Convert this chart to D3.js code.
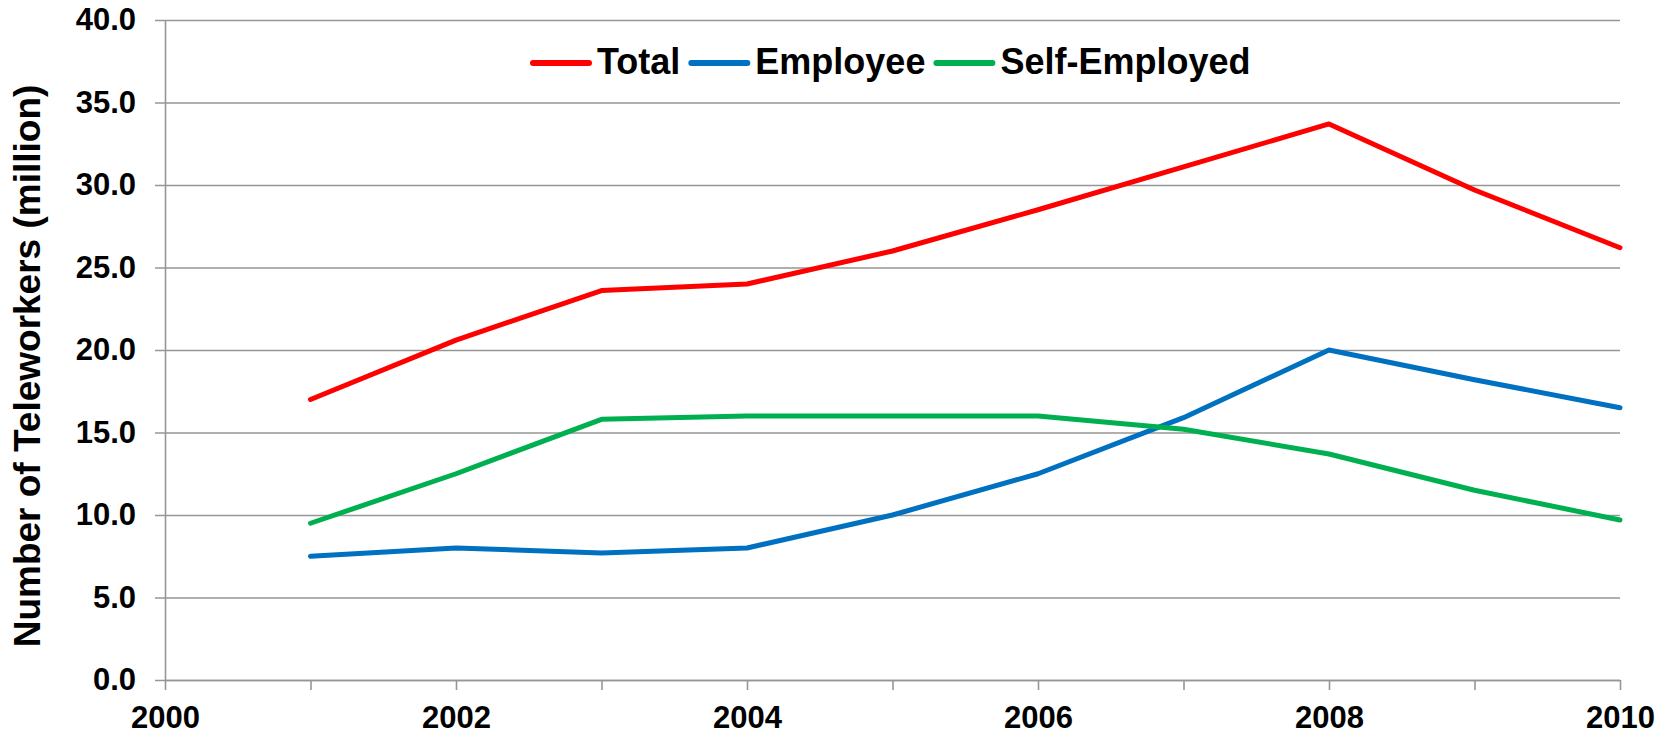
<!DOCTYPE html>
<html>
<head>
<meta charset="utf-8">
<script src="https://cdn.jsdelivr.net/npm/d3@7"></script>
<style>
    body { margin: 0; background: #fff; }
    #chart { width: 1671px; height: 734px; }
    text { font-family: "Liberation Sans", Arial, sans-serif; font-weight: 700; fill: #000; }
</style>
</head>
<body>
<div id="chart"></div>
<script>
//Datos
const years = [2001, 2002, 2003, 2004, 2005, 2006, 2007, 2008, 2009, 2010];
const total = [17.0, 20.6, 23.6, 24.0, 26.0, 28.5, 31.1, 33.7, 29.7, 26.2];
const employee = [7.5, 8.0, 7.7, 8.0, 10.0, 12.5, 15.9, 20.0, 18.2, 16.5];
const selfEmployed = [9.5, 12.5, 15.8, 16.0, 16.0, 16.0, 15.2, 13.7, 11.5, 9.7];
const seriesNames = ['Total', 'Employee', 'Self-Employed'];
const yTicks = [0, 5, 10, 15, 20, 25, 30, 35, 40];
const xTicks = [2000, 2001, 2002, 2003, 2004, 2005, 2006, 2007, 2008, 2009, 2010];

//Colores fijos
const COLORS = ['#FF0000', '#0070C0', '#00B050'],
COLOR_GRID = '#969696';

let series = [total, employee, selfEmployed].map(function(vals, i) {
    return { name: seriesNames[i], color: COLORS[i], values: years.map(function(y, j) { return { year: y, value: vals[j] }; }) };
});

let margin = {top: 20, right: 51, bottom: 54, left: 165},
    width = 1671 - margin.left - margin.right,
    height = 734 - margin.top - margin.bottom;

let svg = d3.select("#chart")
    .append("svg")
        .attr("width", width + margin.left + margin.right)
        .attr("height", height + margin.top + margin.bottom)
    .append("g")
        .attr("transform", "translate(" + margin.left + "," + margin.top + ")");

let x = d3.scaleLinear()
    .domain([2000, 2010])
    .range([0, width]);

let y = d3.scaleLinear()
    .domain([0, 40])
    .range([height, 0]);

//Eje Y + rejilla
let yAxis = function(g) {
    g.call(d3.axisLeft(y).tickValues(yTicks).tickSize(10).tickSizeOuter(0).tickPadding(19).tickFormat(d3.format('.1f')));
    g.call(function(g) {
        g.selectAll('.tick line')
            .attr('x1', -10)
            .attr('x2', width)
            .attr('stroke', COLOR_GRID)
            .attr('stroke-width', 1.6);
    });
    g.call(function(g){ g.select('.domain').attr('stroke', COLOR_GRID).attr('stroke-width', 1.6); });
    g.selectAll('text').style('font-size', '31px');
}

svg.append("g")
    .attr('class', 'yaxis')
    .call(yAxis);

//Eje X
let xAxis = function(g) {
    g.call(d3.axisBottom(x).tickValues(xTicks).tickSize(10).tickSizeOuter(0).tickPadding(16)
        .tickFormat(function(d) { return d % 2 == 0 ? d : ''; }));
    g.call(function(g) {
        g.selectAll('.tick line').attr('stroke', COLOR_GRID).attr('stroke-width', 1.6);
        g.select('.domain').attr('stroke', COLOR_GRID).attr('stroke-width', 1.6);
    });
    g.selectAll('text').style('font-size', '31px');
}

svg.append("g")
    .attr("transform", "translate(0," + height + ")")
    .call(xAxis);

//Líneas
let line = d3.line()
    .x(function(d) { return x(d.year); })
    .y(function(d) { return y(d.value); });

svg.append("g")
    .attr('class', 'chart-g')
    .selectAll('path')
    .data(series)
    .enter()
    .append("path")
    .attr("d", function(d) { return line(d.values); })
    .attr("fill", "none")
    .attr("stroke", function(d) { return d.color; })
    .attr("stroke-width", 5)
    .attr("stroke-linecap", "round")
    .attr("stroke-linejoin", "round");

//Leyenda
let legend = svg.append("g")
    .attr('class', 'legend')
    .attr("transform", "translate(" + (533 - margin.left) + "," + (63 - margin.top) + ")");

let cursor = 0;
series.forEach(function(s) {
    legend.append("line")
        .attr("x1", cursor)
        .attr("x2", cursor + 56)
        .attr("y1", 0)
        .attr("y2", 0)
        .attr("stroke", s.color)
        .attr("stroke-width", 6)
        .attr("stroke-linecap", "round");
    let t = legend.append("text")
        .attr("x", cursor + 64)
        .attr("y", 11)
        .style("font-size", "36px")
        .text(s.name);
    cursor += 64 + t.node().getComputedTextLength() + 11;
});

//Título eje Y
svg.append("text")
    .attr("transform", "translate(" + (40 - margin.left) + "," + (366 - margin.top) + ") rotate(-90)")
    .attr("text-anchor", "middle")
    .style("font-size", "37px")
    .text("Number of Teleworkers (million)");
</script>
</body>
</html>
